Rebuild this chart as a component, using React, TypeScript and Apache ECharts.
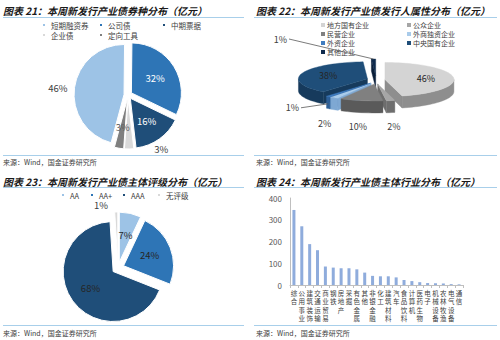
import React, { useEffect, useRef } from 'react';
import * as echarts from 'echarts';

// ---------- data ----------
const bondTypes = ['短期融资券', '公司债', '中期票据', '企业债', '定向工具'];
const bondShares = [46, 32, 16, 3, 3];
const bondColors = ['#9DC3E6', '#2E75B6', '#1F4E79', '#D9D9D9', '#7F7F7F'];

const issuerTypes = ['地方国有企业', '公众企业', '民营企业', '外商独资企业', '外资企业', '中央国有企业', '其他企业'];
const issuerShares = [46, 2, 10, 2, 1, 38, 1];
const issuerTop = ['#D4D4D4', '#A6A6A6', '#808080', '#A9CBEA', '#3F7CC0', '#1F4E79', '#0E2A4D'];
const issuerSide = ['#8E8E8E', '#6E6E6E', '#5A5A5A', '#7EA8D3', '#2D5F97', '#163A5C', '#0A1F39'];

const ratings = ['AA', 'AA+', 'AAA', '无评级'];
const ratingShares = [7, 24, 68, 1];
const ratingColors = ['#9DC3E6', '#2E75B6', '#1F4E79', '#D9D9D9'];

const industries = ['综合', '公用事业', '建筑装饰', '交通运输', '商业贸易', '钢铁', '房地产', '采掘', '有色金属', '其他', '非银金融', '化工', '建筑材料', '汽车', '食品饮料', '计算机', '医药生物', '电子', '机械设备', '农林牧渔', '电气设备', '通信'];
const industryAmounts = [345, 270, 188, 160, 85, 80, 77, 77, 72, 57, 42, 40, 40, 35, 23, 18, 13, 9, 8, 7, 4, 3];
const industryTicks = [0, 100, 200, 300, 400];

const titles = [
  '图表 21：本周新发行产业债券种分布（亿元）',
  '图表 22：本周新发行产业债发行人属性分布（亿元）',
  '图表 23：本周新发行产业债主体评级分布（亿元）',
  '图表 24：本周新发行产业债主体行业分布（亿元）',
];
const source = '来源：Wind，国金证券研究所';

// ---------- style ----------
const FONT = '"Noto Sans CJK SC", "Noto Sans", sans-serif';
const LINE = '#A8CFEA';
const TXT = '#404040';

// 3D pie geometry (chart 22)
const P3 = { cx: 376, cy: 80, rx: 69, ry: 17, depth: 12, ex: 9, ey: 4 };

function sliceGeom(i: number) {
  const total = issuerShares.reduce((a, b) => a + b, 0);
  let acc = 0;
  for (let k = 0; k < i; k++) acc += issuerShares[k];
  const a0 = (acc / total) * Math.PI * 2;
  const a1 = ((acc + issuerShares[i]) / total) * Math.PI * 2;
  const mid = (a0 + a1) / 2;
  const ox = P3.cx + P3.ex * Math.sin(mid);
  const oy = P3.cy - P3.ey * Math.cos(mid);
  const pt = (a: number, yo = 0) => [ox + P3.rx * Math.sin(a), oy - P3.ry * Math.cos(a) + yo];
  const arc = (s: number, e: number, yo = 0) => {
    const n = Math.max(2, Math.ceil((e - s) / (Math.PI / 60)));
    const out: number[][] = [];
    for (let k = 0; k <= n; k++) out.push(pt(s + ((e - s) * k) / n, yo));
    return out;
  };
  return { a0, a1, mid, ox, oy, pt, arc, pct: Math.round((issuerShares[i] / total) * 100), value: issuerShares[i] };
}

function poly(points: number[][], fill: string, z2: number) {
  return { type: 'polygon', z2, shape: { points }, style: { fill, stroke: fill, lineWidth: 0.4 } };
}

function legendItem(name: string, left: number, top: number) {
  return {
    data: [name], left, top, padding: 0, itemWidth: 4, itemHeight: 4, itemGap: 0, icon: 'rect',
    selectedMode: false,
    textStyle: { fontSize: 7.5, lineHeight: 8, color: TXT, fontFamily: FONT },
  };
}

const pctFmt = (p: any) => Math.round(p.percent) + '%';

export default function App() {
  const ref = useRef<HTMLDivElement>(null);
  useEffect(() => {
    const chart = echarts.init(ref.current!, null, { renderer: 'svg', width: 500, height: 340 });

    const titleComps: any[] = [];
    const pos = [[3, 4, 157], [256, 4, 157], [3, 175, 328], [256, 175, 328]];
    titles.forEach((t, i) => {
      titleComps.push({
        text: t, left: pos[i][0], top: pos[i][1], padding: 0,
        textStyle: { fontSize: 10, fontWeight: 'bold', fontStyle: 'italic', color: '#1a1a1a', fontFamily: FONT, lineHeight: 12 },
      });
      titleComps.push({
        text: source, left: pos[i][0], top: pos[i][2], padding: 0,
        textStyle: { fontSize: 7, fontWeight: 'normal', color: TXT, fontFamily: FONT, lineHeight: 9 },
      });
    });

    const hl = (x1: number, x2: number, y: number) => ({
      type: 'line', shape: { x1, y1: y, x2, y2: y }, style: { stroke: LINE, lineWidth: 1 }, silent: true,
    });

    // chart 22 legend as graphics
    const leg22Pos = [[321, 25], [407, 25], [321, 34], [407, 34], [321, 43], [407, 43], [321, 52]];
    const leg22: any[] = [];
    issuerTypes.forEach((n, i) => {
      const [x, y] = leg22Pos[i];
      leg22.push({ type: 'rect', shape: { x, y: y - 2, width: 4, height: 4 }, style: { fill: issuerTop[i] } });
      leg22.push({
        type: 'text', x: x + 6, y,
        style: { text: n, fill: TXT, fontSize: 7, lineHeight: 8, fontFamily: FONT, align: 'left', verticalAlign: 'middle' },
      });
    });

    const legends = [
      legendItem('短期融资券', 41, 21), legendItem('公司债', 98, 21), legendItem('中期票据', 161, 21),
      legendItem('企业债', 41, 31), legendItem('定向工具', 98, 31),
      legendItem('AA', 60, 191), legendItem('AA+', 89, 191), legendItem('AAA', 121, 191), legendItem('无评级', 156, 191),
    ];

    const option: any = {
      animation: false,
      backgroundColor: '#ffffff',
      textStyle: { fontFamily: FONT },
      title: titleComps,
      legend: legends,
      graphic: [
        hl(3, 244, 17.5), hl(3, 244, 155.5), hl(254, 497, 17.5), hl(254, 497, 155.5),
        hl(3, 244, 187.5), hl(3, 244, 325.5), hl(254, 497, 187.5), hl(254, 497, 325.5),
        ...leg22,
      ],
      grid: { left: 290, right: 37, top: 198, bottom: 55 },
      xAxis: {
        type: 'category', data: industries,
        axisLine: { lineStyle: { color: '#BFBFBF' } },
        axisTick: { show: true, length: 3, lineStyle: { color: '#BFBFBF' } },
        axisLabel: {
          interval: 0, fontSize: 6.5, lineHeight: 8.3, color: TXT, margin: 4,
          formatter: (v: string) => v.split('').join('\n'),
        },
      },
      yAxis: {
        type: 'value', min: industryTicks[0], max: industryTicks[industryTicks.length - 1], interval: 100,
        axisLine: { show: true, lineStyle: { color: '#BFBFBF' } },
        axisTick: { show: false },
        splitLine: { show: false },
        axisLabel: { fontSize: 8, color: '#595959', margin: 8 },
      },
      series: [
        {
          type: 'pie', name: '券种', center: [128, 95], radius: [0, 50], startAngle: 255, clockwise: true,
          selectedMode: 'multiple', selectedOffset: 4, avoidLabelOverlap: false,
          itemStyle: { borderColor: '#fff', borderWidth: 1 },
          label: { position: 'inside', formatter: pctFmt, fontSize: 9.5, color: '#fff', fontFamily: FONT },
          labelLine: { show: false },
          data: bondTypes.map((n, i) => {
            const d: any = { name: n, value: bondShares[i], selected: true, itemStyle: { color: bondColors[i] } };
            if (i === 0) {
              d.label = { position: 'outside', color: TXT };
              d.labelLine = { show: false, length: 1, length2: 1 };
            }
            if (i === 3) {
              d.label = { position: 'outside', color: TXT };
              d.labelLine = { show: false, length: 0, length2: 20 };
            }
            if (i === 4) {
              d.label = { position: 'inside', color: '#595959' };
            }
            return d;
          }),
        },
        {
          type: 'pie', name: '评级', center: [118, 268], radius: [0, 50], startAngle: 90, clockwise: true,
          selectedMode: 'multiple', selectedOffset: 6, avoidLabelOverlap: false,
          itemStyle: { borderColor: '#fff', borderWidth: 1 },
          label: { position: 'inside', formatter: pctFmt, fontSize: 9.5, color: '#262626', fontFamily: FONT },
          labelLine: { show: false },
          data: ratings.map((n, i) => {
            const d: any = { name: n, value: ratingShares[i], selected: true, itemStyle: { color: ratingColors[i] } };
            if (i === 3) {
              d.label = { position: 'outside', color: TXT };
              d.labelLine = { show: false, length: 7, length2: 3 };
            }
            return d;
          }),
        },
        {
          type: 'custom', name: '属性侧面', coordinateSystem: 'none', silent: true, z: 2,
          data: issuerTypes.map((n, i) => ({ name: n, value: issuerShares[i] })),
          renderItem: (params: any) => {
            const i = params.dataIndex;
            const g = sliceGeom(i);
            const d = P3.depth;
            const fill = issuerSide[i];
            const z = Math.round(g.oy - P3.ry * Math.cos(g.mid));
            const children: any[] = [];
            const C = [g.ox, g.oy];
            if (Math.sin(g.a0) < -1e-6) {
              const P = g.pt(g.a0);
              children.push(poly([C, P, [P[0], P[1] + d], [C[0], C[1] + d]], fill, z));
            }
            if (Math.sin(g.a1) > 1e-6) {
              const P = g.pt(g.a1);
              children.push(poly([C, P, [P[0], P[1] + d], [C[0], C[1] + d]], fill, z));
            }
            const s = Math.max(g.a0, Math.PI / 2);
            const e = Math.min(g.a1, (Math.PI * 3) / 2);
            if (e > s) {
              const top = g.arc(s, e);
              const bot = g.arc(s, e, d).reverse();
              children.push(poly([...top, ...bot], fill, z + 1));
            }
            return { type: 'group', children };
          },
        },
        {
          type: 'custom', name: '属性顶面', coordinateSystem: 'none', silent: true, z: 3,
          data: issuerTypes.map((n, i) => ({ name: n, value: issuerShares[i] })),
          renderItem: (params: any) => {
            const i = params.dataIndex;
            const g = sliceGeom(i);
            const children: any[] = [poly([[g.ox, g.oy], ...g.arc(g.a0, g.a1)], issuerTop[i], 1)];
            const label = g.pct + '%';
            const ts = (x: number, y: number, align: string, fill = TXT) => ({
              type: 'text', x, y, z2: 5,
              style: { text: label, fill, fontSize: 9, fontFamily: FONT, align, verticalAlign: 'middle' },
            });
            if (g.value >= 20) {
              children.push(ts(g.ox + 0.6 * P3.rx * Math.sin(g.mid), g.oy - 0.6 * P3.ry * Math.cos(g.mid), 'center', '#262626'));
            } else if (g.value > 1) {
              const E = g.pt(g.mid);
              children.push(ts(E[0] + 18 * Math.sin(g.mid), E[1] + P3.depth + 14, 'center'));
            } else {
              const E = g.pt(g.mid);
              const upper = E[1] < P3.cy;
              const target = upper ? E : [E[0], E[1] + P3.depth * 0.6];
              const lx = P3.cx - P3.rx - (upper ? 20 : 8);
              const ly = upper ? E[1] - 20 : target[1] + 4;
              children.push(ts(lx, ly, 'right'));
              children.push({
                type: 'polyline', z2: 5,
                shape: { points: [[lx + 2, ly], target] },
                style: { stroke: '#595959', lineWidth: 0.8, fill: null },
              });
            }
            return { type: 'group', children };
          },
        },
        {
          type: 'bar', name: '行业', data: industryAmounts, barWidth: 3,
          itemStyle: { color: '#8FACDC' },
        },
      ],
    };
    chart.setOption(option);
    return () => chart.dispose();
  }, []);
  return <div ref={ref} style={{ position: 'fixed', left: 0, top: 0, width: 500, height: 340, background: '#fff' }} />;
}
